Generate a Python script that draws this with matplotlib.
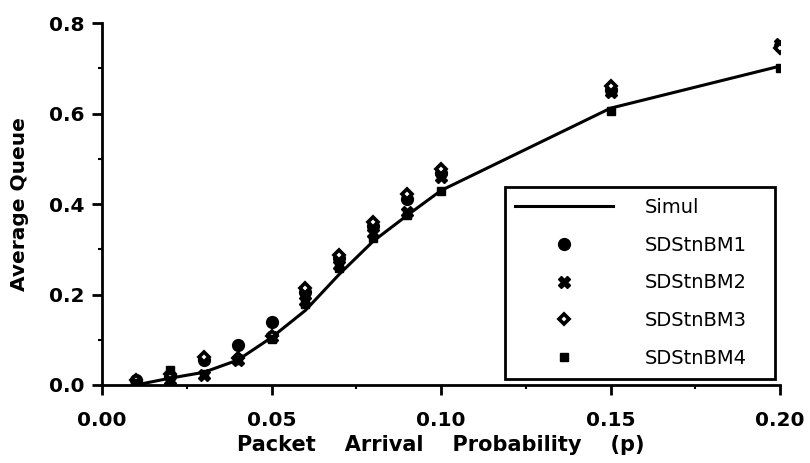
import matplotlib.pyplot as plt
from matplotlib.ticker import MultipleLocator

# packet arrival probability
p = [0.01, 0.02, 0.03, 0.04, 0.05, 0.06, 0.07, 0.08, 0.09, 0.10, 0.15, 0.20]

simul = [0.0, 0.015, 0.028, 0.055, 0.105, 0.165, 0.245, 0.318, 0.375, 0.43, 0.612, 0.705]
bm1 = [0.01, 0.02, 0.055, 0.088, 0.14, 0.205, 0.28, 0.352, 0.412, 0.468, 0.652, 0.75]
bm2 = [0.005, 0.01, 0.022, 0.055, 0.105, 0.185, 0.265, 0.335, 0.383, 0.46, 0.648, 0.755]
bm3 = [0.012, 0.025, 0.062, 0.06, 0.108, 0.214, 0.288, 0.36, 0.422, 0.478, 0.66, 0.745]
bm4 = [0.005, 0.033, 0.025, 0.055, 0.102, 0.178, 0.258, 0.325, 0.376, 0.428, 0.605, 0.70]

plt.rcParams['font.family'] = ['DejaVu Sans']

fig = plt.figure(figsize=(8.1, 4.63), dpi=100)
ax = fig.add_axes([0.126, 0.1685, 0.837, 0.7815])

ax.plot(p, simul, color='black', lw=2.2, label='Simul', zorder=3)
ax.plot(p, bm1, ls='none', marker='o', ms=8.5, color='black', label='SDStnBM1', zorder=4)
ax.plot(p, bm2, ls='none', marker='X', ms=8, mfc='black', mec='black', label='SDStnBM2', zorder=4)
ax.plot(p, bm3, ls='none', marker='D', ms=5.5, mfc='white', mec='black', mew=2.6,
        label='SDStnBM3', zorder=4)
ax.plot(p, bm4, ls='none', marker='s', ms=6, color='black', label='SDStnBM4', zorder=4)

ax.set_xlim(0, 0.20)
ax.set_ylim(0, 0.8)
ax.xaxis.set_major_locator(MultipleLocator(0.05))
ax.xaxis.set_minor_locator(MultipleLocator(0.025))
ax.yaxis.set_major_locator(MultipleLocator(0.2))
ax.yaxis.set_minor_locator(MultipleLocator(0.1))
ax.xaxis.set_major_formatter(plt.FuncFormatter(lambda v, _: f"{v:.2f}"))
ax.yaxis.set_major_formatter(plt.FuncFormatter(lambda v, _: f"{v:.1f}"))

for s in ['top', 'right']:
    ax.spines[s].set_visible(False)
for s in ['left', 'bottom']:
    ax.spines[s].set_linewidth(2)
ax.tick_params(which='major', length=7, width=2, labelsize=14.5)
ax.tick_params(axis='x', which='major', pad=12)
ax.tick_params(axis='y', which='major', pad=6)
ax.tick_params(which='minor', length=3, width=1.5)
for lab in ax.get_xticklabels() + ax.get_yticklabels():
    lab.set_fontweight('bold')

ax.set_xlabel('Packet    Arrival    Probability    (p)', fontsize=15, fontweight='bold', labelpad=3)
ax.set_ylabel('Average Queue', fontsize=14.5, fontweight='bold', labelpad=14)

leg = ax.legend(loc='lower left', bbox_to_anchor=(0.594, 0.017, 0.399, 0.535), mode='expand',
                fontsize=14, frameon=True, fancybox=False, framealpha=1,
                handlelength=5.0, handletextpad=1.65,
                borderpad=0.55, labelspacing=0.97, borderaxespad=0)
leg.get_frame().set_edgecolor('black')
leg.get_frame().set_linewidth(2)

fig.savefig('out.png', dpi=100)
